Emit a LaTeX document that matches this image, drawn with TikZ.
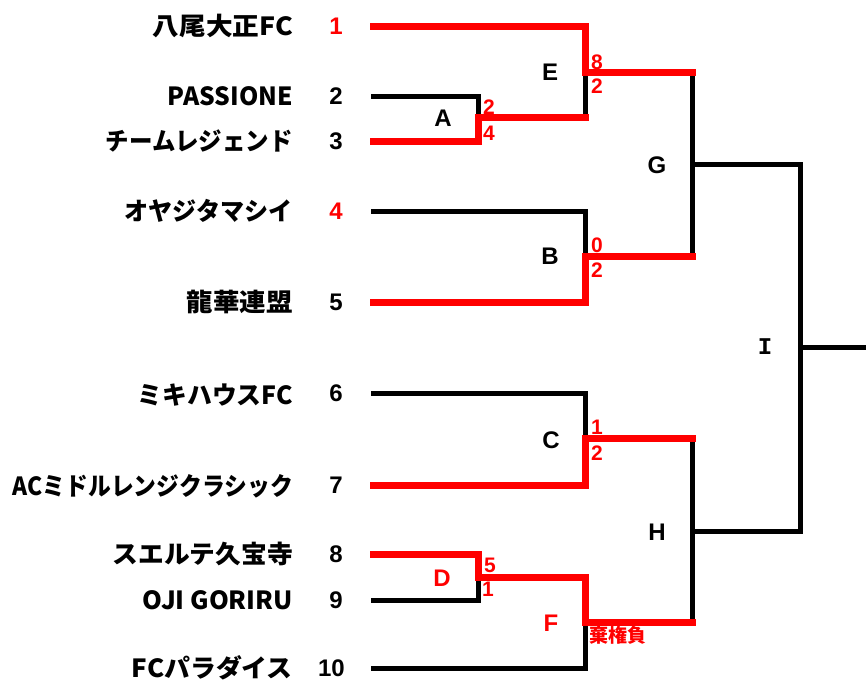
\documentclass[tikz,border=0pt]{standalone}
\usepackage{fontspec}
\setmainfont{Noto Sans CJK JP}
\newfontfamily\latf{Liberation Sans}
\newfontfamily\monoI{Liberation Mono}
\usepackage{graphicx}
\newsavebox\fitbox
\newcommand\fitw[2]{\sbox\fitbox{#2}\pgfmathsetmacro\fitr{#1/\the\wd\fitbox}\scalebox{\fitr}[1]{\usebox\fitbox}}
\tikzset{
 blk/.style={line width=5pt, black, line cap=rect, line join=miter},
 rd/.style={line width=7pt, red, line cap=rect, line join=miter},
 team/.style={anchor=base east, inner sep=0pt, font=\bfseries\fontsize{25}{25}\selectfont},
 seed/.style={anchor=base east, inner sep=0pt, font=\latf\bfseries\fontsize{24}{24}\selectfont},
 match/.style={inner sep=0pt, font=\latf\bfseries\fontsize{24}{24}\selectfont},
 score/.style={inner sep=0pt, text=red, font=\latf\bfseries\fontsize{21}{21}\selectfont},
}
\begin{document}
\begin{tikzpicture}[x=1pt,y=-1pt]
\useasboundingbox (0,0) rectangle (866,681);
% team names
\node[team] (n1) at (293,35) {\fitw{140}{八尾大正FC}};
\node[team] (n2) at (293,105) {\fitw{125}{PASSIONE}};
\node[team] (n3) at (293,150) {\fitw{187}{チームレジェンド}};
\node[team] (n4) at (293,220) {\fitw{168}{オヤジタマシイ}};
\node[team] (n5) at (293,311) {\fitw{106}{龍華連盟}};
\node[team] (n6) at (293,404) {\fitw{155}{ミキハウスFC}};
\node[team] (n7) at (293,495) {\fitw{280}{ACミドルレンジクラシック}};
\node[team] (n8) at (293,563) {\fitw{180}{スエルテ久宝寺}};
\node[team] (n9) at (293,609) {\fitw{150}{OJI GORIRU}};
\node[team] (n10) at (293,677) {\fitw{161}{FCパラダイス}};
% seeds
\node[seed,text=red] (s1) at (343,34.5) {1};
\node[seed] (s2) at (343,104.5) {2};
\node[seed] (s3) at (343,149.5) {3};
\node[seed,text=red] (s4) at (343,219.5) {4};
\node[seed] (s5) at (343,310.5) {5};
\node[seed] (s6) at (343,401.5) {6};
\node[seed] (s7) at (343,493.5) {7};
\node[seed] (s8) at (343,562.5) {8};
\node[seed] (s9) at (343,608.5) {9};
\node[seed] (s10) at (345,676.5) {10};
% black lines
\draw[blk] (373,96) -- (478,96) -- (478,117);
\draw[blk] (585,117) -- (585,72);
\draw[blk] (373,211) -- (585,211) -- (585,256);
\draw[blk] (692,72) -- (692,256);
\draw[blk] (692,164) -- (800,164);
\draw[blk] (373,393) -- (585,393) -- (585,438);
\draw[blk] (373,600) -- (478,600) -- (478,577);
\draw[blk] (373,668) -- (585,668) -- (585,622);
\draw[blk] (692,438) -- (692,622);
\draw[blk] (692,531) -- (800,531);
\draw[blk] (800,164) -- (800,531);
\draw[blk] (800,347) -- (870,347);
% red lines
\draw[rd] (373,26) -- (585,26) -- (585,72) -- (692,72);
\draw[rd] (373,141) -- (478,141) -- (478,117) -- (585,117);
\draw[rd] (373,302) -- (585,302) -- (585,256) -- (692,256);
\draw[rd] (373,485) -- (585,485) -- (585,438) -- (692,438);
\draw[rd] (373,554) -- (478,554) -- (478,577) -- (585,577) -- (585,622) -- (692,622);
% match labels
\node[match] (mA) at (443,118) {A};
\node[match] (mB) at (550,256) {B};
\node[match] (mC) at (551,440) {C};
\node[match,text=red] (mD) at (442,578) {D};
\node[match] (mE) at (550,72) {E};
\node[match,text=red] (mF) at (551,623) {F};
\node[match] (mG) at (657,165) {G};
\node[match] (mH) at (657,532) {H};
\node[match] (mI) at (765,347) {{\monoI I}};
% scores
\node[score] (sA1) at (489,107) {2};
\node[score] (sA2) at (489,133) {4};
\node[score] (sE1) at (597,62) {8};
\node[score] (sE2) at (597,86) {2};
\node[score] (sB1) at (597,245) {0};
\node[score] (sB2) at (597,270) {2};
\node[score] (sC1) at (597,427) {1};
\node[score] (sC2) at (597,453) {2};
\node[score] (sD1) at (490,565) {5};
\node[score] (sD2) at (488,589) {1};
\node[score,anchor=west,font=\bfseries\fontsize{19}{19}\selectfont] (sF) at (589,635) {棄権負};
\end{tikzpicture}
\end{document}
